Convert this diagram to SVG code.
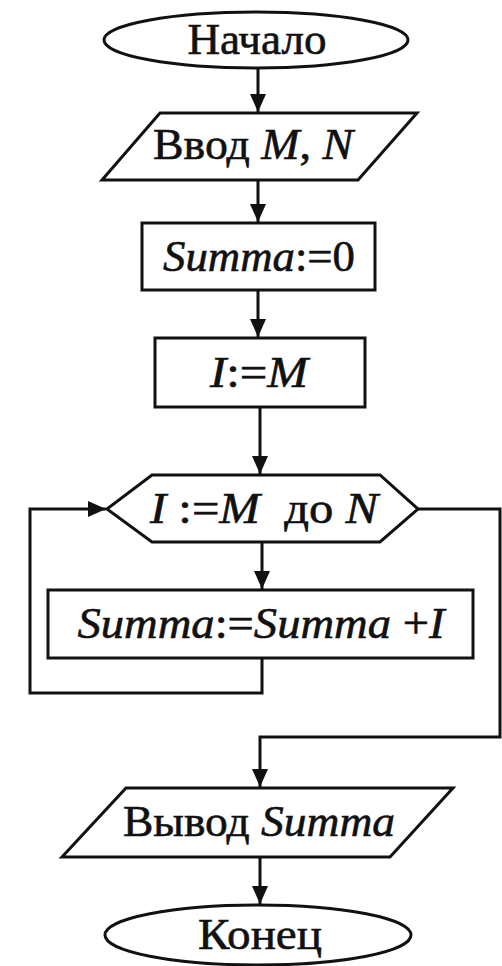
<svg xmlns="http://www.w3.org/2000/svg" width="502" height="966" viewBox="0 0 502 966">
<style>
.shape{fill:#fff;stroke:#111;stroke-width:3}
.conn{fill:none;stroke:#111;stroke-width:3}
text{font-family:"Liberation Serif","Times New Roman",serif;font-size:44px;fill:#111;stroke:#111;stroke-width:0.6;text-anchor:middle}
.i{font-style:italic}
</style>
<defs>
<marker id="ah" viewBox="0 0 18 16" refX="18" refY="8" markerWidth="18" markerHeight="16" markerUnits="userSpaceOnUse" orient="auto">
<path d="M0,0 L18,8 L0,16 Z" fill="#111"/>
</marker>
</defs>
<rect width="502" height="966" fill="#fff"/>
<g id="connectors">
<path class="conn" d="M258,68 V112" marker-end="url(#ah)"/>
<path class="conn" d="M258,180 V222" marker-end="url(#ah)"/>
<path class="conn" d="M258,290 V337" marker-end="url(#ah)"/>
<path class="conn" d="M260,407 V474" marker-end="url(#ah)"/>
<path class="conn" d="M262,542 V589" marker-end="url(#ah)"/>
<path class="conn" d="M262,658 V693 H30 V509 H106" marker-end="url(#ah)"/>
<path class="conn" d="M418,509 H500 V737 H260 V787" marker-end="url(#ah)"/>
<path class="conn" d="M260,857 V904" marker-end="url(#ah)"/>
</g>
<g id="start">
<ellipse class="shape" cx="256" cy="40" rx="152" ry="28"/>
<text x="257" y="54" textLength="139" lengthAdjust="spacingAndGlyphs">Начало</text>
</g>
<g id="input">
<polygon class="shape" points="160,113 417,113 358,180 102,180"/>
<text x="253" y="159" textLength="200" lengthAdjust="spacingAndGlyphs">Ввод <tspan class="i">M</tspan>, <tspan class="i">N</tspan></text>
</g>
<g id="init-sum">
<rect class="shape" x="142" y="223" width="233" height="67"/>
<text x="259" y="271" textLength="192" lengthAdjust="spacingAndGlyphs"><tspan class="i">Summa</tspan>:=0</text>
</g>
<g id="init-i">
<rect class="shape" x="155" y="338" width="210" height="69"/>
<text x="259" y="387" textLength="98" lengthAdjust="spacingAndGlyphs"><tspan class="i">I</tspan>:=<tspan class="i">M</tspan></text>
</g>
<g id="loop">
<polygon class="shape" points="107,509 152,475 380,475 418,509 380,542 152,542"/>
<text x="264" y="523" textLength="228" lengthAdjust="spacingAndGlyphs" xml:space="preserve"><tspan class="i">I</tspan> :=<tspan class="i">M</tspan>  до <tspan class="i">N</tspan></text>
</g>
<g id="add">
<rect class="shape" x="48" y="590" width="425" height="68"/>
<text x="261" y="638" textLength="367" lengthAdjust="spacingAndGlyphs"><tspan class="i">Summa</tspan>:=<tspan class="i">Summa</tspan> +<tspan class="i">I</tspan></text>
</g>
<g id="output">
<polygon class="shape" points="126,788 453,788 390,857 62,857"/>
<text x="259" y="836" textLength="272" lengthAdjust="spacingAndGlyphs">Вывод <tspan class="i">Summa</tspan></text>
</g>
<g id="end">
<ellipse class="shape" cx="258" cy="935" rx="153" ry="30"/>
<text x="260" y="949" textLength="124" lengthAdjust="spacingAndGlyphs">Конец</text>
</g>
</svg>
